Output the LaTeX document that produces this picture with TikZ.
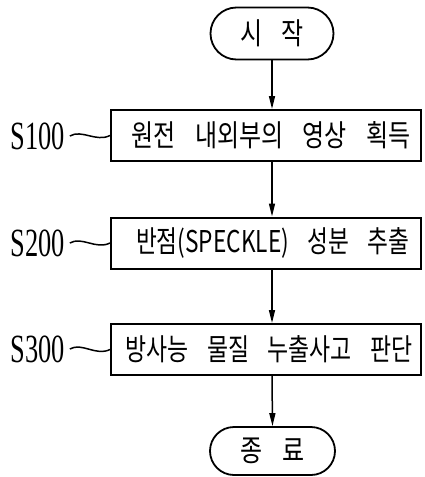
\documentclass[tikz,border=0pt]{standalone}
\usepackage{graphicx}
\usepackage{fontspec}
\newfontfamily\kr[FakeStretch=0.8,WordSpace=3.6]{Noto Sans CJK KR}
\newfontfamily\lblfont[FakeStretch=0.66]{Liberation Serif}
\usetikzlibrary{arrows.meta,shapes.misc}
\begin{document}
\begin{tikzpicture}[x=1pt,y=-1pt,
  term/.style={rounded rectangle, draw, line width=1.8pt, minimum width=123pt, minimum height=52pt, inner sep=0pt, font=\kr\fontsize{30}{30}\selectfont},
  proc/.style={rectangle, draw, line width=2pt, minimum width=310pt, minimum height=51pt, inner sep=0pt, font=\kr\fontsize{30}{30}\selectfont},
  arr/.style={-{Triangle[length=13pt,width=6pt]}, line width=1.5pt},
  lab/.style={inner sep=0pt, font=\lblfont\fontsize{40}{40}\selectfont},
  tilde/.style={line width=1.5pt}]
\useasboundingbox (0,0) rectangle (424,477);
\node[term] (start) at (272,33.5) {시 작};
\node[proc] (b1) at (266,135.5) {\hspace{10pt}원전 내외부의 영상 획득};
\node[proc] (b2) at (266,243) {\hspace{13pt}\scalebox{0.944}[1]{반점(SPECKLE) 성분 추출}};
\node[proc] (b3) at (266,349.5) {\hspace{6pt}\scalebox{0.954}[1]{방사능 물질 누출사고 판단}};
\node[term, minimum width=125pt, minimum height=48pt] (end) at (272.5,451) {종 료};
\node[lab] (s1) at (37.5,136) {S100};
\node[lab] (s2) at (37.5,243) {S200};
\node[lab] (s3) at (37.5,349) {S300};
\draw[arr] (start.south) -- (start.south |- b1.north);
\draw[arr] (start.south |- b1.south) -- (start.south |- b2.north);
\draw[arr] (start.south |- b2.south) -- (start.south |- b3.north);
\draw[arr] (start.south |- b3.south) -- (end.north);
\foreach \s/\b in {s1/b1,s2/b2,s3/b3}
  \draw[tilde] (\s.east) ++(5,0) .. controls +(12,-7) and +(-14,7) .. (\b.west);
\end{tikzpicture}
\end{document}
